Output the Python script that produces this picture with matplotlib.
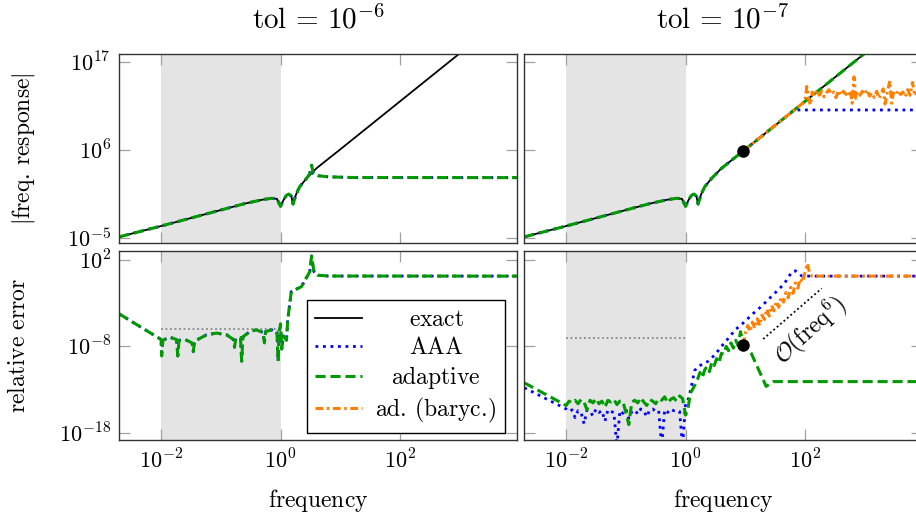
import matplotlib
matplotlib.use('Agg')
import matplotlib.pyplot as plt
import numpy as np

plt.rcParams['mathtext.fontset'] = 'cm'
plt.rcParams['font.family'] = 'serif'
plt.rcParams['font.serif'] = ['DejaVu Serif']

# ---------- DATA (all values are log10) ----------
# exact frequency response (same system for both tolerances)
lf_exact = [-2.7, -2.0, -1.5, -1.0, -0.6, -0.3, -0.15, -0.06, 0.0, 0.05, 0.1, 0.14,
            0.18, 0.21, 0.26, 0.32, 0.435, 0.6, 0.8, 0.97, 2.0, 3.0, 4.0]
lh_exact = [-4.9, -3.55, -2.55, -1.55, -0.75, -0.25, -0.08, -0.15, -1.1, -0.3, 0.3, 0.45,
            0.2, -0.8, 0.4, 1.35, 2.4, 3.65, 4.85, 5.85, 12.03, 18.03, 24.03]

# tol = 1e-6 : AAA and adaptive coincide
lf_apx6 = [-2.7, -2.0, -1.5, -1.0, -0.6, -0.3, -0.15, -0.06, 0.0, 0.05, 0.1, 0.14,
           0.18, 0.21, 0.26, 0.32, 0.435, 0.49, 0.52, 0.55, 0.62, 0.8, 1.2, 3.96]
lh_apx6 = [-4.9, -3.55, -2.55, -1.55, -0.75, -0.25, -0.08, -0.15, -1.1, -0.3, 0.3, 0.45,
           0.2, -0.8, 0.4, 1.35, 2.4, 3.0, 4.05, 3.0, 2.75, 2.6, 2.52, 2.5]

lf_err6 = [-2.7, -2.0, -1.99, -1.97, -1.86, -1.74, -1.72, -1.70, -1.6, -1.48, -1.46,
           -1.44, -1.24, -1.07, -0.9, -0.79, -0.77, -0.75, -0.67, -0.65, -0.63, -0.51,
           -0.41, -0.29, -0.27, -0.25, -0.15, -0.06, -0.04, -0.02, 0.0, 0.02, 0.05,
           0.1, 0.12, 0.18, 0.35, 0.49, 0.52, 0.56, 0.62, 0.8, 3.96]
le_err6 = [-4.26, -7.2, -9.1, -7.3, -6.93, -7.2, -9.1, -7.3, -7.2, -7.6, -8.6, -7.4,
           -6.67, -6.47, -6.67, -7.2, -8.1, -7.1, -7.0, -9.7, -6.9, -6.28, -6.09, -6.4,
           -7.6, -6.3, -6.1, -6.3, -9.7, -6.4, -5.4, -8.3, -6.8, -7.3, -5.0, -1.7,
           -1.13, 0.6, 2.4, 0.6, 0.2, 0.1, 0.09]

# tol = 1e-7
lf_aaa7 = [-2.7, -2.0, -1.5, -1.0, -0.6, -0.3, -0.15, -0.06, 0.0, 0.05, 0.1, 0.14,
           0.18, 0.21, 0.26, 0.32, 0.435, 0.6, 0.8, 0.97, 1.5, 1.8, 1.86, 3.96]
lh_aaa7 = [-4.9, -3.55, -2.55, -1.55, -0.75, -0.25, -0.08, -0.15, -1.1, -0.3, 0.3, 0.45,
           0.2, -0.8, 0.4, 1.35, 2.4, 3.65, 4.85, 5.85, 9.03, 10.85, 10.96, 10.96]

lf_bary = [0.97, 1.5, 2.0, 2.03, 2.06, 2.09, 2.12, 2.16, 2.2, 2.24, 2.28, 2.32, 2.36,
           2.4, 2.44, 2.48, 2.52, 2.56, 2.6, 2.64, 2.68, 2.72, 2.76, 2.79, 2.82, 2.85,
           2.88, 2.92, 2.96, 3.0, 3.04, 3.08, 3.12, 3.16, 3.2, 3.24, 3.28, 3.31, 3.34,
           3.38, 3.42, 3.45, 3.48, 3.52, 3.56, 3.6, 3.64, 3.68, 3.72, 3.76, 3.8, 3.84,
           3.88, 3.92, 3.96]
lh_bary = [5.85, 9.03, 12.05, 13.9, 12.4, 11.6, 13.2, 12.7, 13.4, 12.8, 13.3, 12.6, 13.1,
           13.5, 12.9, 13.2, 12.5, 13.4, 12.8, 13.3, 13.0, 12.6, 13.4, 11.8, 15.1, 12.4,
           13.2, 12.8, 13.3, 12.9, 13.5, 12.7, 13.1, 12.5, 13.3, 12.4, 13.0, 13.6, 11.7,
           13.2, 14.6, 11.8, 13.1, 12.8, 13.4, 12.9, 13.2, 12.6, 13.5, 12.8, 14.4, 12.7,
           13.2, 12.8, 13.4]

# relative errors, tol = 1e-7
lf_grid = [-2.00, -1.95, -1.90, -1.85, -1.80, -1.75, -1.70, -1.65, -1.60, -1.55, -1.50,
           -1.45, -1.40, -1.35, -1.30, -1.25, -1.20, -1.15, -1.10, -1.05, -1.00, -0.95,
           -0.90, -0.85, -0.80, -0.75, -0.70, -0.65, -0.60, -0.55, -0.50, -0.45, -0.40,
           -0.35, -0.30, -0.25, -0.20, -0.15, -0.10, -0.05, 0.00]
le_aaa7_grid = [-15.2, -15.5, -15.3, -16.2, -15.4, -15.6, -16.9, -15.3, -15.5, -16.0, -15.2,
                -15.6, -15.4, -16.6, -15.3, -15.5, -15.6, -19.5, -15.4, -15.7, -15.2, -16.3,
                -15.5, -15.3, -15.8, -15.2, -15.4, -16.1, -15.3, -15.2, -15.5, -15.4, -19.5,
                -15.3, -15.6, -15.2, -15.4, -15.3, -15.5, -19.5, -14.6]
le_ad7_grid = [-14.8, -14.3, -14.5, -14.2, -14.6, -14.1, -14.4, -15.3, -14.2, -14.5, -14.0,
               -14.6, -14.3, -15.0, -14.2, -14.4, -14.1, -14.7, -14.3, -14.3, -15.6, -17.0,
               -14.4, -14.2, -14.5, -13.9, -14.4, -14.8, -14.1, -14.3, -14.6, -14.0, -14.2,
               -13.8, -14.5, -14.1, -13.9, -14.3, -13.7, -14.0, -15.9]

lf_aaa7_rise = [0.05, 0.1, 0.15, 0.21, 0.3, 0.38, 0.5, 0.6, 0.7, 0.83, 0.95, 1.05, 1.15,
                1.27, 1.4, 1.55, 1.65, 1.78, 1.84, 1.89, 1.95, 3.96]
le_aaa7_rise = [-14.0, -12.5, -10.8, -10.3, -10.0, -9.7, -8.9, -8.0, -7.2, -6.1, -5.4,
                -4.75, -4.1, -3.4, -2.5, -1.5, -0.8, 0.58, 0.7, 0.4, 0.09, 0.09]

lf_ad7_rise = [0.04, 0.08, 0.12, 0.16, 0.20, 0.24, 0.28, 0.32, 0.36, 0.40, 0.44, 0.48,
               0.52, 0.56, 0.60, 0.64, 0.68, 0.72, 0.76, 0.80, 0.84, 0.88, 0.92, 0.97,
               1.1, 1.35, 1.47, 3.96]
le_ad7_rise = [-15.2, -13.4, -12.9, -12.4, -11.8, -11.0, -11.6, -10.7, -10.3, -10.9, -9.8,
               -10.2, -9.4, -9.9, -8.8, -8.9, -8.0, -8.5, -7.6, -8.2, -7.3, -7.9, -6.3,
               -7.84, -8.8, -12.6, -12.05, -12.05]

lf_bary_err = [0.97, 1.0, 1.04, 1.08, 1.12, 1.16, 1.20, 1.24, 1.28, 1.32, 1.36, 1.40,
               1.44, 1.48, 1.52, 1.56, 1.60, 1.64, 1.68, 1.72, 1.76, 1.80, 1.84, 1.88,
               1.92, 1.96, 2.00, 2.04, 2.08, 2.12, 3.96]
le_bary_err = [-7.84, -6.5, -5.6, -6.3, -5.2, -5.9, -4.8, -5.6, -4.4, -4.9, -3.7, -4.5,
               -3.3, -3.9, -2.8, -3.5, -2.3, -2.9, -1.8, -2.4, -1.2, -1.9, -0.7, -1.3,
               -0.2, -0.6, 0.5, 1.55, 0.3, 0.09, 0.09]

# switch point (black dot) and O(freq^6) guide
dot_f = 0.97
dot_mag = 5.85
dot_err = -7.84
guide_f = [1.3, 2.28]
guide_e = [-7.15, -1.32]

tols = [-6, -7]
shade = [-2, 0]
xtick_exp = [-2, 0, 2]
xtick_labels = [r'$10^{-2}$', r'$10^{0}$', r'$10^{2}$']
ytick_top = [-5, 6, 17]
ytick_top_labels = [r'$10^{-5}$', r'$10^{6}$', r'$10^{17}$']
ytick_bot = [-18, -8, 2]
ytick_bot_labels = [r'$10^{-18}$', r'$10^{-8}$', r'$10^{2}$']


def p(a):
    return np.power(10.0, np.asarray(a, dtype=float))


C_AAA = '#0000ff'
C_AD = '#009900'
C_BA = '#ff8000'
LS_AAA = dict(color=C_AAA, lw=2.0, linestyle=(0, (1, 1.7)))
LS_AD = dict(color=C_AD, lw=2.2, linestyle=(0, (3.3, 1.6)))
LS_BA = dict(color=C_BA, lw=2.2, linestyle=(0, (2.5, 1.2, 0.8, 1.2)))
LS_EX = dict(color='black', lw=1.3)

# ---------- FIGURE ----------
fig = plt.figure(figsize=(9.16, 5.21), dpi=100)
W = 0.4342
H = 0.3622
ax_tl = fig.add_axes([0.1302, 0.5342, W, H])
ax_tr = fig.add_axes([0.5724, 0.5342, W, H])
ax_bl = fig.add_axes([0.1302, 0.1555, W, H])
ax_br = fig.add_axes([0.5724, 0.1555, W, H])

for ax in (ax_tl, ax_tr, ax_bl, ax_br):
    ax.set_xscale('log')
    ax.set_yscale('log')
    ax.axvspan(p(shade[0]), p(shade[1]), color='#e4e4e4', lw=0, zorder=0)
    ax.set_xlim(p(-2.7), p(3.96))
    ax.set_xticks(p(xtick_exp))
    ax.minorticks_off()
    ax.tick_params(which='both', direction='in', top=True, right=True,
                   length=8, width=0.9, color='#a0a0a0', labelsize=16)
    for s in ax.spines.values():
        s.set_color('#333333')
        s.set_linewidth(1.0)

for ax in (ax_tl, ax_tr):
    ax.set_ylim(p(-5.63), p(17.96))
    ax.set_yticks(p(ytick_top))
    ax.minorticks_off()
    ax.tick_params(labelbottom=False)
for ax in (ax_bl, ax_br):
    ax.set_ylim(p(-18.77), p(2.95))
    ax.set_yticks(p(ytick_bot))
    ax.minorticks_off()
    ax.set_xticklabels(xtick_labels)
    ax.tick_params(axis='x', pad=7)
    ax.set_xlabel(r'$\mathrm{frequency}$', fontsize=17)
    ax.xaxis.set_label_coords(0.5, -0.25)

ax_tl.set_yticklabels(ytick_top_labels)
ax_bl.set_yticklabels(ytick_bot_labels)
ax_tr.tick_params(labelleft=False)
ax_br.tick_params(labelleft=False)
ax_tl.tick_params(axis='y', pad=6)
ax_bl.tick_params(axis='y', pad=6)

ax_tl.set_ylabel(r'$|\mathrm{freq.}\!\ \mathrm{response}|$', fontsize=17)
ax_tl.yaxis.set_label_coords(-0.207, 0.5)
ax_bl.set_ylabel(r'$\mathrm{relative\ error}$', fontsize=17)
ax_bl.yaxis.set_label_coords(-0.225, 0.5)

ax_tl.set_title(r'$\mathrm{tol}\,=\,10^{%d}$' % tols[0], fontsize=21, pad=18)
ax_tr.set_title(r'$\mathrm{tol}\,=\,10^{%d}$' % tols[1], fontsize=21, pad=18)

# ---------- TOP LEFT ----------
ax_tl.plot(p(lf_exact), p(lh_exact), **LS_EX)
ax_tl.plot(p(lf_apx6), p(lh_apx6), **LS_AAA)
ax_tl.plot(p(lf_apx6), p(lh_apx6), **LS_AD)

# ---------- TOP RIGHT ----------
h_ex, = ax_tr.plot(p(lf_exact), p(lh_exact), label=r'$\mathrm{exact}$', **LS_EX)
h_aaa, = ax_tr.plot(p(lf_aaa7), p(lh_aaa7), label=r'$\mathrm{AAA}$', **LS_AAA)
h_ad, = ax_tr.plot(p(lf_exact), p(lh_exact), label=r'$\mathrm{adaptive}$', **LS_AD)
h_ba, = ax_tr.plot(p(lf_bary), p(lh_bary),
                   label=r'$\mathrm{ad.}\!\ \mathrm{(baryc.}\!\mathrm{)}$', **LS_BA)
ax_tr.plot(p(dot_f), p(dot_mag), 'o', color='black', ms=8, zorder=5)

# ---------- BOTTOM LEFT ----------
ax_bl.plot(p(shade), p([tols[0], tols[0]]), color='#888888', lw=1.3, linestyle=(0, (1, 1.5)))
ax_bl.plot(p(lf_err6), p(le_err6), **LS_AAA)
ax_bl.plot(p(lf_err6), p(le_err6), **LS_AD)

# ---------- BOTTOM RIGHT ----------
ax_br.plot(p(shade), p([tols[1], tols[1]]), color='#888888', lw=1.3, linestyle=(0, (1, 1.5)))
ax_br.plot(p([-2.7] + lf_grid + lf_aaa7_rise), p([-12.76] + le_aaa7_grid + le_aaa7_rise),
           **LS_AAA)
ax_br.plot(p([-2.7] + lf_grid + lf_ad7_rise), p([-12.19] + le_ad7_grid + le_ad7_rise),
           **LS_AD)
ax_br.plot(p(lf_bary_err), p(le_bary_err), **LS_BA)
ax_br.plot(p(guide_f), p(guide_e), color='black', lw=1.3, linestyle=(0, (1, 1.5)))
ax_br.plot(p(dot_f), p(dot_err), 'o', color='black', ms=8, zorder=5)
ax_br.text(p(2.08), p(-6.1), r'$\mathcal{O}(\mathrm{freq}^6)$', fontsize=17,
           rotation=42, rotation_mode='anchor', ha='center', va='center')

# ---------- LEGEND ----------
leg = ax_bl.legend(handles=[h_ex, h_aaa, h_ad, h_ba], loc='lower right',
                   bbox_to_anchor=(0.970, 0.037), borderaxespad=0, fontsize=17,
                   handlelength=2.0, handletextpad=0.55, borderpad=0.35,
                   labelspacing=0.2, fancybox=False, framealpha=1, edgecolor='black')
leg.get_frame().set_linewidth(1.0)
leg.set_zorder(10)

fig.canvas.draw()
texts = leg.get_texts()
widths = [t.get_window_extent().width for t in texts]
wmax = max(widths)
for t, w in zip(texts, widths):
    t.set_x((wmax - w) / 2)

fig.savefig('out.png', dpi=100)
